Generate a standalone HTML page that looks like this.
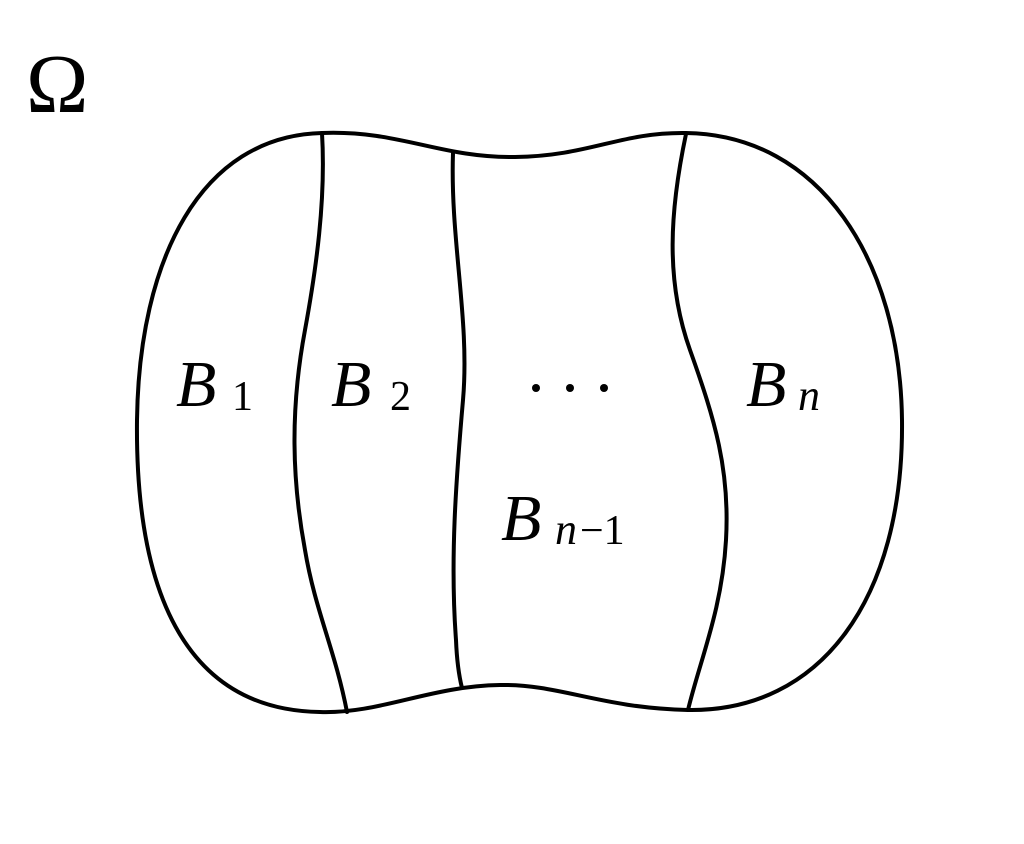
<!DOCTYPE html>
<html><head><style>
html,body{margin:0;padding:0;background:#fff;}
svg{display:block;}
text{font-family:"Liberation Serif",serif;font-style:italic;fill:#000;}
</style></head><body>
<svg width="1024" height="844" viewBox="0 0 1024 844" xmlns="http://www.w3.org/2000/svg">
<g fill="none" stroke="#000" stroke-width="4" stroke-linecap="round" stroke-linejoin="round">
<path d="M322,133 C400,130 440,158 515,157 C590,156 620,132 686,133 C820,135 900,260 902,420 C904,600 820,712 688,710 C600,708 560,684 500,685 C430,686 380,714 320,712 C190,710 135,600 137,420 C139,260 200,136 322,133 Z"/>
<path d="M322,133 C326,200 316,270 305,330 C290,410 292,480 305,550 C315,610 335,650 347,712"/>
<path d="M453,153 C450,240 470,320 463,400 C456,480 450,560 456,640 C457,665 460,680 462,688"/>
<path d="M686,134 C670,210 665,280 690,350 C715,420 730,470 726,540 C722,610 700,660 688,710"/>
</g>
<g fill="#000"><circle cx="536" cy="388" r="4"/><circle cx="570" cy="388" r="4"/><circle cx="604" cy="388" r="4"/></g>
<text x="26" y="112" font-size="84" style="font-style:normal">Ω</text>
<text x="176" y="406" font-size="66">B</text><text x="232" y="410" font-size="42" style="font-style:normal">1</text>
<text x="331" y="406" font-size="66">B</text><text x="390" y="410" font-size="42" style="font-style:normal">2</text>
<text x="746" y="406" font-size="66">B</text><text x="798" y="410" font-size="44">n</text>
<text x="501" y="540" font-size="66">B</text><text x="555" y="544" font-size="44">n</text><text x="580" y="544" font-size="42" style="font-style:normal">−1</text>
</svg>
</body></html>
